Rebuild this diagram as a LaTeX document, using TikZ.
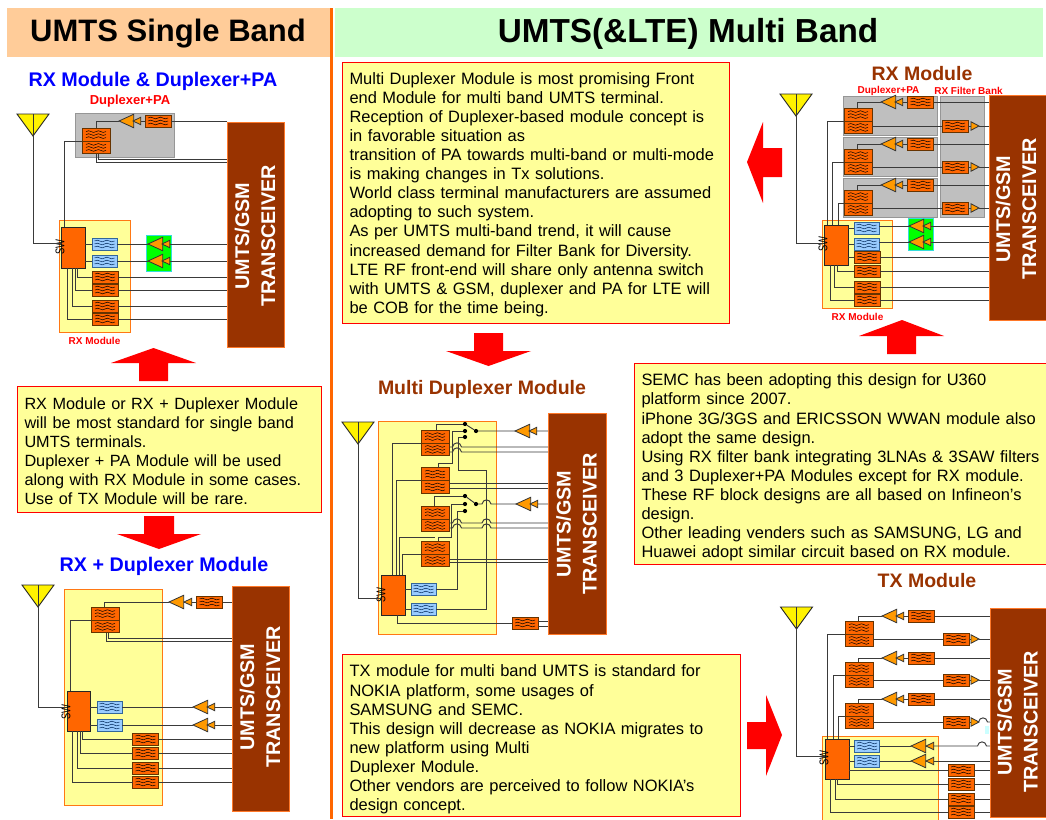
\documentclass[tikz,border=0pt]{standalone}
\usepackage{fontspec}
\usepackage{graphicx}
\setmainfont{Liberation Sans}
\usetikzlibrary{shapes.geometric}
\definecolor{brn}{HTML}{993300}
\definecolor{org}{HTML}{FF6600}
\definecolor{pale}{HTML}{FFFF99}
\definecolor{wirec}{HTML}{3A3A3A}
\definecolor{fedge}{HTML}{663300}
\definecolor{bedge}{HTML}{336699}
\definecolor{bfill}{HTML}{99CCFF}
\definecolor{bwave}{HTML}{00285A}
\definecolor{ampf}{HTML}{FF9900}
\definecolor{gedge}{HTML}{969696}
\definecolor{gfill}{HTML}{BFBFBF}
\definecolor{yedge}{HTML}{FF7814}
\definecolor{cedge}{HTML}{33DCDC}
\definecolor{tedge}{HTML}{FF7828}
\definecolor{barl}{HTML}{FFCC99}
\definecolor{barr}{HTML}{CCFFCC}
\definecolor{cyanp}{HTML}{CCFFFF}
\tikzset{
  every node/.style={inner sep=0pt,outer sep=0pt},
  wire/.style={draw=wirec,line width=.95pt},
  wavy/.style={path picture={
    \foreach \k in {-3,0,3}{
      \draw[shift={(path picture bounding box.center)},line width=.5pt,draw=#1]
        (-10,\k) .. controls (-6,\k-3) and (-3.5,\k+3) .. (0,\k)
        .. controls (3.5,\k-3) and (6,\k+3) .. (10,\k);}
  }},
  fo/.style={rectangle,draw=fedge,line width=1pt,fill=org,minimum width=26pt,minimum height=12pt,wavy=black},
  fb/.style={rectangle,draw=bedge,line width=1pt,fill=bfill,minimum width=25pt,minimum height=12pt,wavy=bwave},
  dup/.style={rectangle,draw=fedge,line width=1pt,fill=org,minimum width=28pt,minimum height=12.8pt,wavy=black},
  ampb/.style={isosceles triangle,isosceles triangle stretches,shape border rotate=180,minimum width=13.5pt,minimum height=14.7pt,draw=black!80,line width=.8pt,fill=ampf},
  amps/.style={isosceles triangle,isosceles triangle stretches,shape border rotate=180,minimum width=7.5pt,minimum height=7.8pt,draw=black!80,line width=.8pt,fill=ampf},
  ampr/.style={isosceles triangle,isosceles triangle stretches,minimum width=8.5pt,minimum height=8pt,draw=black!80,line width=.8pt,fill=ampf},
  anten/.style={isosceles triangle,isosceles triangle stretches,shape border rotate=-90,minimum width=32pt,minimum height=22pt,draw=black!85,line width=.9pt,fill=yellow},
  gbox/.style={rectangle,draw=gedge,line width=1pt,fill=gfill},
  ybox/.style={rectangle,draw=yedge,line width=1pt,fill=pale},
  grnbox/.style={rectangle,draw=cedge,line width=1pt,fill=green},
  trbox/.style={rectangle,draw=tedge,line width=1pt,fill=brn},
  swbox/.style={rectangle,draw=black!85,line width=1pt,fill=org},
  txtbox/.style={rectangle,draw=red,line width=1pt,fill=pale,align=left},
  dotn/.style={circle,fill=black,minimum size=4.2pt},
  swlab/.style={rotate=90,font=\fontsize{11.5}{12}\selectfont},
  trtxt/.style={rotate=90,align=center,text=white,font=\bfseries\fontsize{19.8}{26}\selectfont},
  bluet/.style={text=blue,font=\bfseries\fontsize{19.7}{22}\selectfont},
  brnt/.style={text=brn,font=\bfseries\fontsize{19.5}{22}\selectfont},
  redl/.style={text=red,font=\bfseries\fontsize{10}{12}\selectfont},
  redm/.style={text=red,font=\bfseries\fontsize{13}{14}\selectfont},
  bodyt/.style={font=\fontsize{16.45}{19.1}\selectfont},
}
\newcommand{\SWT}{\scalebox{0.82}[1.1]{SW}}
\newcommand{\BX}[6]{\node[#1,minimum width={(#5-#3)*1pt},minimum height={(#6-#4)*1pt}] (#2) at ({(#3+#5)/2},{(#4+#6)/2}) {};}
\newcommand{\TBX}[7]{\node[txtbox,bodyt,minimum width={(#4-#2)*1pt},minimum height={(#5-#3)*1pt},text width={(#4-#2-2)*1pt},inner sep=0pt] (#1) at ({(#2+#4)/2},{(#3+#5)/2}) {\leftskip=6.5pt\rule{0pt}{#6pt}#7\par};}
\newcommand{\FO}[3]{\node[fo] (#1) at (#2,#3) {};}
\newcommand{\FB}[3]{\node[fb] (#1) at (#2,#3) {};}
\newcommand{\DU}[3]{\node[dup,anchor=south] (#1t) at (#2,#3) {};\node[dup,anchor=north] (#1b) at (#2,#3) {};}
\newcommand{\AB}[3]{\node[ampb,anchor=apex] (#1) at (#2,#3) {};}
\newcommand{\AS}[3]{\node[amps,anchor=apex] (#1) at (#2,#3) {};}
\newcommand{\AR}[3]{\node[ampr,anchor=apex] (#1) at (#2,#3) {};}
\newcommand{\ANT}[3]{\node[anten,anchor=apex] (#1) at (#2,#3) {};\draw[line width=.8pt,draw=black!80] (#1.apex) -- (#1.lower side);}
\newcommand{\hp}[2]{-- (#1-4.5,#2) .. controls (#1-3.5,#2-5.5) and (#1+3.5,#2-5.5) .. (#1+4.5,#2)}
\begin{document}
\begin{tikzpicture}[x=1pt,y=-1pt]
\useasboundingbox (0,0) rectangle (1046,819);
\fill[white] (0,0) rectangle (1046,819);
% header bars
\BX{rectangle,fill=barl}{hbl}{7}{8}{330}{57}
\BX{rectangle,fill=barr}{hbr}{335}{8}{1043}{57}
\node[font=\bfseries\fontsize{31}{34}\selectfont] (titl) at (168,34) {UMTS Single Band};
\node[font=\bfseries\fontsize{33.3}{34}\selectfont] (titr) at (688,34) {UMTS(\&LTE) Multi Band};
\fill[org] (329.5,8) rectangle (333,819);
% red arrows
\fill[red] (153.5,348) -- (196,363) -- (168,363) -- (168,381) -- (139,381) -- (139,363) -- (111,363) -- cycle;
\fill[red] (144,516) -- (174,516) -- (174,534) -- (201,534) -- (159,549) -- (117,534) -- (144,534) -- cycle;
\fill[red] (747,162) -- (763,122) -- (763,148) -- (782,148) -- (782,177) -- (763,177) -- (763,203) -- cycle;
\fill[red] (474,333) -- (503,333) -- (503,351) -- (531,351) -- (488.5,366) -- (446,351) -- (474,351) -- cycle;
\fill[red] (902,320) -- (944,336) -- (916,336) -- (916,354) -- (887,354) -- (887,336) -- (859,336) -- cycle;
\fill[red] (747,722) -- (766,722) -- (766,695) -- (782,735) -- (766,776) -- (766,749) -- (747,749) -- cycle;
% text boxes
\TBX{tbl}{17}{386}{321}{512}{16}{\fontsize{16.25}{19.1}\selectfont RX Module or RX + Duplexer Module\\will be most standard for single band\\UMTS terminals.\\Duplexer + PA Module will be used\\along with RX Module in some cases.\\Use of TX Module will be rare.}
\TBX{tbm}{342}{62}{729}{323}{16}{Multi Duplexer Module is most promising Front\\end Module for multi band UMTS terminal.\\Reception of Duplexer-based module concept is\\in favorable situation as\\transition of PA towards multi-band or multi-mode\\is making changes in Tx solutions.\\World class terminal manufacturers are assumed\\adopting to such system.\\As per UMTS multi-band trend, it will cause\\increased demand for Filter Bank for Diversity.\\LTE RF front-end will share only antenna switch\\with UMTS \& GSM, duplexer and PA for LTE will\\be COB for the time being.}
\TBX{tbs}{634}{363}{1046}{564}{20}{SEMC has been adopting this design for U360\\platform since 2007.\\iPhone 3G/3GS and ERICSSON WWAN module also\\adopt the same design.\\Using RX filter bank integrating 3LNAs \& 3SAW filters\\and 3 Duplexer+PA Modules except for RX module.\\These RF block designs are all based on Infineon's\\design.\\Other leading venders such as SAMSUNG, LG and\\Huawei adopt similar circuit based on RX module.}
\TBX{tbt}{342}{654}{740}{816}{21}{TX module for multi band UMTS is standard for\\NOKIA platform, some usages of\\SAMSUNG and SEMC.\\This design will decrease as NOKIA migrates to\\new platform using Multi\\Duplexer Module.\\Other vendors are perceived to follow NOKIA's\\design concept.}
% titles
\node[bluet] (ta) at (153,81) {RX Module \& Duplexer+PA};
\node[bluet] (tb) at (164,566) {RX + Duplexer Module};
\node[brnt] (tc) at (482,389) {Multi Duplexer Module};
\node[brnt] (td) at (922,73.5) {RX Module};
\node[brnt] (te) at (927,580.5) {TX Module};
\node[redm] (la1) at (130,101) {Duplexer+PA};
\node[redl] (la2) at (94.5,341) {RX Module};
\node[redl] (ld1) at (888.5,90.5) {Duplexer+PA};
\node[redl] (ld2) at (968.5,90.5) {RX Filter Bank};
\node[redl] (ld3) at (857.5,317) {RX Module};

% ===== diagram A
\BX{gbox}{ga}{75}{113}{174}{157}
\BX{ybox}{ya}{59}{220}{130}{332}
\BX{grnbox}{gra}{146}{235}{171}{271}
\BX{trbox}{tra}{227}{122}{284}{347}
\node[trtxt] (tatx) at (255,236) {UMTS/GSM\\TRANSCEIVER};
\ANT{anta}{33}{136}
\BX{swbox}{swa}{61}{227}{85}{268}
\node[swlab] (swla) at (60,247) {\SWT};
\DU{da}{96}{141}
\FO{fa0}{158}{121}\AB{aa0}{119}{121}\AS{sa0}{133}{121}
\FB{fa1}{104.5}{244}\FB{fa2}{104.5}{261}
\FO{fa3}{105}{277}\FO{fa4}{105}{290}\FO{fa5}{105}{306}\FO{fa6}{105}{319}
\AB{aa1}{148}{244}\AS{sa1}{162}{244}\AB{aa2}{148}{261}\AS{sa2}{162}{261}
\draw[wire] (fa0 -| tra.west) -- (fa0.east) (fa0.west) -- (sa0.lower side) (sa0.apex) -- (aa0.lower side);
\draw[wire] (aa0.apex) -| (dat.north);
\draw[wire] ([xshift=2pt]dab.south) |- (tra.west |- 0,159);
\draw[wire] (dab.south) |- (tra.west |- 0,162);
\draw[wire] (dab.north west) -| ([xshift=-9pt]swa.north);
\draw[wire] (anta.apex) |- (swa.west |- 0,243);
\foreach \n in {1,2}{
  \draw[wire] (swa.east |- fa\n) -- (fa\n.west) (fa\n.east) -- (aa\n.apex) (aa\n.lower side) -- (sa\n.apex) (sa\n.lower side) -- (sa\n -| tra.west);}
\foreach \n/\s in {3/4,4/2,5/-1,6/-6}{
  \draw[wire] ([xshift=\s pt]swa.south) |- (fa\n.west) (fa\n.east) -- (fa\n -| tra.west);}

% ===== diagram B
\BX{ybox}{yb}{64}{589}{162}{805}
\BX{trbox}{trb}{232}{586}{289}{811}
\node[trtxt] (tbtx) at (260,697) {UMTS/GSM\\TRANSCEIVER};
\ANT{antb}{38}{607}
\BX{swbox}{swb}{67}{691}{90}{731}
\node[swlab] (swlb) at (66,712) {\SWT};
\DU{db}{105}{620}
\FO{fb0}{209.5}{602}\AB{ab0}{169}{602}\AS{sb0}{184}{602}
\FB{fb1}{109.5}{707}\FB{fb2}{109.5}{725}
\FO{fb3}{145.5}{739}\FO{fb4}{145.5}{753}\FO{fb5}{145.5}{768}\FO{fb6}{145.5}{782}
\AB{ab1}{193}{707}\AS{sb1}{207}{707}\AB{ab2}{193}{725}\AS{sb2}{207}{725}
\draw[wire] (fb0 -| trb.west) -- (fb0.east) (fb0.west) -- (sb0.lower side) (sb0.apex) -- (ab0.lower side);
\draw[wire] (ab0.apex) -| ([xshift=-1pt]dbt.north);
\draw[wire] ([xshift=3pt]dbb.south) |- (trb.west |- 0,638);
\draw[wire] ([xshift=1pt]dbb.south) |- (trb.west |- 0,641);
\draw[wire] (dbb.north west) -| ([xshift=-8.5pt]swb.north);
\draw[wire] (antb.apex) |- (swb.west |- 0,707);
\foreach \n in {1,2}{
  \draw[wire] (swb.east |- fb\n) -- (fb\n.west) (fb\n.east) -- (ab\n.apex) (ab\n.lower side) -- (sb\n.apex) (sb\n.lower side) -- (sb\n -| trb.west);}
\foreach \n/\s in {3/3.5,4/1.5,5/-1.5,6/-6.5}{
  \draw[wire] ([xshift=\s pt]swb.south) |- (fb\n.west) (fb\n.east) -- (fb\n -| trb.west);}

% ===== diagram C
\BX{ybox}{yc}{378}{421}{496}{634}
\BX{trbox}{trc}{548}{413}{606}{634}
\node[trtxt] (tctx) at (576.5,524) {UMTS/GSM\\TRANSCEIVER};
\ANT{antc}{358}{444}
\BX{swbox}{swc}{381}{575}{405}{615}
\node[swlab] (swlc) at (381,595) {\SWT};
\DU{dc1}{435}{443}\DU{dc2}{435}{480.5}\DU{dc3}{435}{519}\DU{dc4}{435}{554}
\FB{bc1}{423.5}{589}\FB{bc2}{423.5}{609}
\FO{fc1}{525}{623}
\AB{ac1}{515}{431}\AS{sc1}{529}{431}\AB{ac2}{516}{504}\AS{sc2}{530}{504}
\node[dotn] (p1a) at (465,424) {};\node[dotn] (p1b) at (465,431) {};\node[dotn] (p1c) at (465,437) {};\node[dotn] (p1p) at (476,431) {};
\node[dotn] (p2a) at (465,496) {};\node[dotn] (p2b) at (465,504) {};\node[dotn] (p2c) at (465,511) {};\node[dotn] (p2p) at (476,504) {};
\coordinate (c3e) at (435,537);
\draw[wire] (antc.apex) |- (swc.west |- 0,598);
\draw[wire] (dc1b.north west) -| ([xshift=-1pt]swc.north);
\draw[wire] (dc2b.north west) -| ([xshift=3pt]swc.north);
\draw[wire] ([xshift=6pt]swc.north) |- (c3e);
\draw[wire] (dc4b.north west) -| ([xshift=9pt]swc.north);
\draw[wire] ([xshift=1pt]dc1t.north) |- (p1a);
\draw[wire] ([xshift=3pt]dc2t.north) |- (452,463) |- (p1b);
\draw[wire] (p1c) -| (458,470) -| (486,609) -- (bc2.east);
\draw[wire] ([xshift=-1pt]dc3t.north) |- (p2a);
\draw[wire] ([xshift=3pt]dc4t.north) |- (451,537) |- (p2b);
\draw[wire] (bc1.east) -| (457,511) -- (p2c);
\draw[wire] (p1a) -- (p1p) -- (ac1.apex) (ac1.lower side) -- (sc1.apex) (sc1.lower side) -- (sc1 -| trc.west);
\draw[wire] (p2a) -- (p2p) \hp{486.5}{504} -- (ac2.apex) (ac2.lower side) -- (sc2.apex) (sc2.lower side) -- (sc2 -| trc.west);
\draw[wire] (dc1b.east |- 0,447) \hp{457}{447} -- (trc.west |- 0,447);
\draw[wire] (dc1b.east |- 0,452) \hp{457}{452} -- (trc.west |- 0,452);
\draw[wire] (dc2b.east |- 0,483) -- (trc.west |- 0,483);
\draw[wire] (dc2b.east |- 0,488) -- (trc.west |- 0,488);
\draw[wire] (dc3b.east |- 0,523) \hp{457}{523} \hp{486.5}{523} -- (trc.west |- 0,523);
\draw[wire] (dc3b.east |- 0,528) \hp{457}{528} \hp{486.5}{528} -- (trc.west |- 0,528);
\draw[wire] (dc4b.east |- 0,559) -- (trc.west |- 0,559);
\draw[wire] (dc4b.east |- 0,562) -- (trc.west |- 0,562);
\draw[wire] (swc.east |- bc1) -- (bc1.west) (swc.east |- bc2) -- (bc2.west);
\draw[wire] ([xshift=4pt]swc.south) |- (fc1.west);
\draw[wire] (fc1.east |- 0,621) -- (trc.west |- 0,621);
\draw[wire] (fc1.east |- 0,626) -- (trc.west |- 0,626);

% ===== diagram D
\BX{gbox}{dfb}{940}{96}{984}{217}
\BX{ybox}{yd}{822}{220}{892}{308}
\BX{grnbox}{grd}{908}{218}{933}{250}
\BX{trbox}{trd}{989}{95}{1047}{320}
\node[trtxt] (tdtx) at (1016,209) {UMTS/GSM\\TRANSCEIVER};
\ANT{antd}{796}{116}
\BX{swbox}{swd}{824}{225}{848}{265}
\node[swlab] (swld) at (823,244) {\SWT};
\foreach \n/\a/\b/\s/\fy/\ry/\lx in {1/96/135/121/102/126/-9,2/137/176/162/144/167/-4,3/178/217/203/185/208/2}{
  \BX{gbox}{dg\n}{843}{\a}{937}{\b}
  \DU{dd\n}{858}{\s}
  \FO{df\n}{920.5}{\fy}\AB{da\n}{881}{\fy}\AS{ds\n}{895}{\fy}
  \FO{dr\n}{955}{\ry}\AR{dq\n}{979}{\ry}
  \draw[wire] (df\n -| trd.west) -- (df\n.east) (df\n.west) -- (ds\n.lower side) (ds\n.apex) -- (da\n.lower side);
  \draw[wire] (da\n.apex) -| ([xshift=-1pt]dd\n t.north);
  \draw[wire] (dd\n b.east |- dr\n) -- (dr\n.west) (dr\n.east) -- (dq\n.lower side) (dq\n.apex) -- (dq\n -| trd.west);
  \draw[wire] (dd\n b.north west) -| ([xshift=\lx pt]swd.north);
}
\FB{bd1}{866.5}{228}\FB{bd2}{866.5}{244}
\FO{fd3}{867}{257}\FO{fd4}{867}{271}\FO{fd5}{867}{287}\FO{fd6}{867}{300}
\AB{ad1}{909}{226}\AS{sd1}{923}{226}\AB{ad2}{909}{242}\AS{sd2}{923}{242}
\draw[wire] (antd.apex) |- (swd.west |- 0,243);
\foreach \n in {1,2}{
  \draw[wire] (swd.east |- bd\n) -- (bd\n.west) (bd\n.east |- ad\n) -- (ad\n.apex) (ad\n.lower side) -- (sd\n.apex) (sd\n.lower side) -- (sd\n -| trd.west);}
\draw[wire] (swd.east |- fd3) -- (fd3.west);
\foreach \n/\s in {4/1,5/-2,6/-6}{\draw[wire] ([xshift=\s pt]swd.south) |- (fd\n.west);}
\foreach \n in {3,4,5,6}{\draw[wire] (fd\n.east) -- (fd\n -| trd.west);}

% ===== diagram E
\BX{ybox}{ye}{822}{736}{938}{830}
\BX{trbox}{tre}{990}{608}{1047}{817}
\node[trtxt] (tetx) at (1017.5,722) {UMTS/GSM\\TRANSCEIVER};
\fill[cyanp] (985,726) rectangle (989,734);
\ANT{ante}{796.5}{629}
\BX{swbox}{swe}{825}{739}{849}{779}
\node[swlab] (swle) at (824,758) {\SWT};
\foreach \n/\s/\fy/\ry/\lx in {1/634/616/639/-10,2/675/658/680/-4,3/716/699/722/1}{
  \DU{ed\n}{859}{\s}
  \FO{ef\n}{921}{\fy}\AB{ea\n}{882}{\fy}\AS{es\n}{896}{\fy}
  \FO{er\n}{956}{\ry}\AR{eq\n}{979}{\ry}
  \draw[wire] (ef\n -| tre.west) -- (ef\n.east) (ef\n.west) -- (es\n.lower side) (es\n.apex) -- (ea\n.lower side);
  \draw[wire] (ea\n.apex) -| ([xshift=-1pt]ed\n t.north);
  \draw[wire] (ed\n b.east |- er\n) -- (er\n.west) (er\n.east) -- (eq\n.lower side);
  \draw[wire] (ed\n b.north west) -| ([xshift=\lx pt]swe.north);
}
\draw[wire] (eq1.apex) -- (eq1 -| tre.west);
\draw[wire] (eq2.apex) -- (eq2 -| tre.west);
\draw[wire] (eq3.apex) \hp{983}{722} -- (eq3 -| tre.west);
\FB{be1}{867}{746}\FB{be2}{867}{761}
\FO{fe3}{961}{770}\FO{fe4}{961}{784}\FO{fe5}{961}{799}\FO{fe6}{961}{812}
\AB{ae1}{911}{746}\AS{se1}{926}{746}\AB{ae2}{911}{761}\AS{se2}{926}{761}
\draw[wire] (ante.apex) |- (swe.west |- 0,756);
\foreach \n in {1,2}{
  \draw[wire] (swe.east |- be\n) -- (be\n.west) (be\n.east) -- (ae\n.apex) (ae\n.lower side) -- (se\n.apex);}
\draw[wire] (se1.lower side) \hp{982}{746} -- (se1 -| tre.west);
\draw[wire] (se2.lower side) -- (se2 -| tre.west);
\draw[wire] (swe.east |- fe3) -- (fe3.west);
\foreach \n/\s in {4/0,5/-2,6/-7}{\draw[wire] ([xshift=\s pt]swe.south) |- (fe\n.west);}
\foreach \n in {3,4,5,6}{\draw[wire] (fe\n.east) -- (fe\n -| tre.west);}
\end{tikzpicture}
\end{document}
